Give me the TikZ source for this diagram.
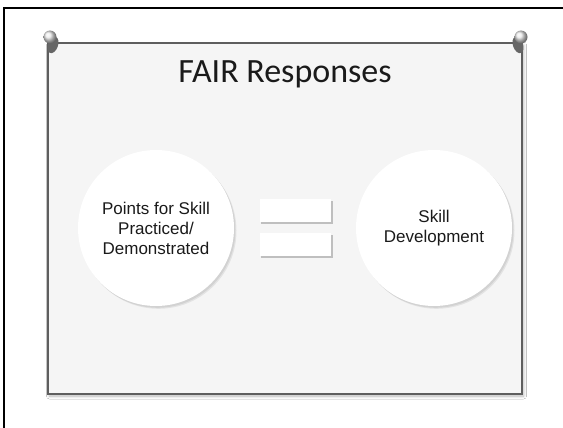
\documentclass[tikz,border=0pt]{standalone}
\usepackage{fontspec}
\setmainfont{Liberation Sans}
\newfontfamily\titlefont{Carlito}
\usetikzlibrary{shadows.blur}
\definecolor{cardbg}{HTML}{F5F5F5}
\definecolor{cardline}{HTML}{5E5E5E}
\definecolor{txt}{HTML}{1A1A1A}
\tikzset{
  card/.style={draw=cardline, line width=1.3pt, fill=cardbg, blur shadow={shadow xshift=1.5pt, shadow yshift=-2pt, shadow blur radius=3pt, shadow blur steps=6, shadow opacity=30}},
  disc/.style={circle, fill=white, minimum size=156pt, inner sep=0pt, align=center, text=txt, font=\fontsize{17}{20}\selectfont},
  bar/.style={rectangle, fill=white, minimum width=71pt, minimum height=23pt, inner sep=0pt},
  softshade/.style={fill=black, opacity=0.07},
  barshade/.style={fill=black, opacity=0.22},
  pinbody/.style={fill=black!60},
  pinhead/.style={ball color=white!92!black}
}
\begin{document}
\begin{tikzpicture}[x=1pt,y=-1pt]
\useasboundingbox (0,0) rectangle (563,428);
\fill[white] (0,0) rectangle (563,428);
% outer frame
\draw[line width=2.2pt, black] (4,430) -- (4,8) -- (565,8);
% card
\node[card, minimum width=474pt, minimum height=351pt, inner sep=0pt] (cardbox) at (285,218.5) {};
% title
\node[font=\titlefont\fontsize{34}{40}\selectfont, text=txt] (title) at (285,74) {FAIR Responses};
% soft shadows of circles
\foreach \cx in {156,434}{
  \fill[softshade] (\cx+1.5,229.8) circle (78pt);
  \fill[softshade] (\cx+2.5,230.8) circle (78pt);
}
% circles
\node[disc] (left) at (156,228) {Points for Skill\\Practiced/\\Demonstrated};
\node[disc] (right) at (434,228) {Skill\\Development};
% shadows of equals bars
\fill[barshade] (261,201) rectangle (332.5,224);
\fill[barshade] (261,235) rectangle (332.5,258);
% equals bars
\node[bar] (bara) at (295.5,210.5) {};
\node[bar] (barb) at (295.5,244.5) {};
% pins
\fill[pinbody, rotate around={-20:(53,45)}] (53,45) ellipse (5pt and 8.5pt);
\shade[pinhead] (50,37) circle (6.5pt);
\fill[pinbody, rotate around={20:(518,45)}] (518,45) ellipse (5pt and 8.5pt);
\shade[pinhead] (521,37) circle (6.5pt);
\end{tikzpicture}
\end{document}
